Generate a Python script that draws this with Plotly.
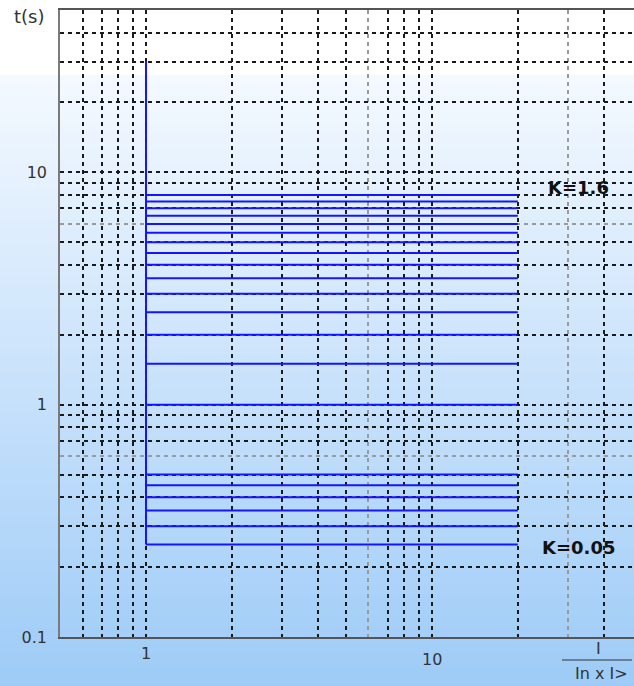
import math
import plotly.graph_objects as go

# Definite-time trip levels (seconds), one per time-multiplier setting K
TRIP_TIMES = [8, 7.5, 7, 6.5, 6, 5.5, 5, 4.5, 4, 3.5, 3, 2.5, 2, 1.5,
              1, 0.5, 0.45, 0.4, 0.35, 0.3, 0.25]
I_PICKUP = 1        # I / (In x I>) at which the stage picks up
I_END = 20          # right end of the drawn characteristic
T_TOP = 30          # top of the pickup line
CURVE_LABELS = ["K=1.6", "K=0.05"]
CURVE_LABEL_TIMES = [8, 0.25]
CURVE_LABEL_X = 32.5

# Grid positions
X_GRID = [0.6, 0.7, 0.8, 0.9, 1, 2, 3, 4, 5, 7, 8, 9, 10, 20, 40]
X_GRID_LIGHT = [6, 30]
X_LABELS = ["1", "10"]
X_LABEL_VALS = [1, 10]
Y_GRID = [0.1, 0.2, 0.3, 0.4, 0.5, 0.7, 0.8, 0.9, 1, 2, 3, 4, 5, 7, 8, 9, 10,
          20, 30, 40]
Y_GRID_LIGHT = [0.6, 6]
Y_LABELS = {0.1: "0.1", 1: "1", 10: "10"}

X_RANGE = (0.5, 51)
Y_RANGE = (0.1, 50)

W, H = 634, 686
ML, MR, MT, MB = 60, 0, 10, 49
PW, PH = W - ML - MR, H - MT - MB


def px_to_paper_x(px):
    return (px - ML) / PW


def px_to_paper_y(py):
    return (H - MB - py) / PH


BLUE = "#1414ff"
GRID = "#1a1a1a"
GRID_LIGHT = "#9a9a9a"
TXT = "#333333"

fig = go.Figure()

# pickup line at I = 1
fig.add_trace(go.Scatter(
    x=[I_PICKUP, I_PICKUP], y=[min(TRIP_TIMES), T_TOP], mode="lines",
    line=dict(color=BLUE, width=2), hoverinfo="skip", showlegend=False))

# one horizontal definite-time line per K setting
for t in TRIP_TIMES:
    fig.add_trace(go.Scatter(
        x=[I_PICKUP, I_END], y=[t, t], mode="lines",
        line=dict(color=BLUE, width=2), hoverinfo="skip", showlegend=False))

# background: white top band, then a soft blue vertical gradient
shapes = []
g_top, g_bot = 75, H
c0, c1 = (244, 249, 255), (157, 203, 247)
step = 3
py = g_top
while py < g_bot:
    f = (py - g_top) / (g_bot - g_top)
    col = tuple(round(a + (b - a) * f) for a, b in zip(c0, c1))
    shapes.append(dict(
        type="rect", xref="paper", yref="paper", layer="below",
        x0=px_to_paper_x(-2), x1=px_to_paper_x(W + 2),
        y0=px_to_paper_y(min(py + step + 0.5, g_bot + 2)), y1=px_to_paper_y(py),
        fillcolor="rgb(%d,%d,%d)" % col, line=dict(width=0)))
    py += step

# fraction bar of the x-axis title
shapes.append(dict(
    type="line", xref="paper", yref="paper",
    x0=px_to_paper_x(562), x1=px_to_paper_x(632),
    y0=px_to_paper_y(660), y1=px_to_paper_y(660),
    line=dict(color="#333333", width=1.2)))

annotations = []
for txt, xv in zip(X_LABELS, X_LABEL_VALS):
    annotations.append(dict(
        text=txt, x=math.log10(xv), xref="x", yref="paper",
        y=px_to_paper_y(653 if xv == 1 else 659), yanchor="middle",
        xanchor="center", showarrow=False,
        font=dict(family="DejaVu Sans", size=16, color=TXT)))

annotations.append(dict(
    text="t(s)", x=px_to_paper_x(29), y=px_to_paper_y(17), xref="paper",
    yref="paper", xanchor="center", yanchor="middle", showarrow=False,
    font=dict(family="DejaVu Sans", size=18, color=TXT)))
annotations.append(dict(
    text="I", x=px_to_paper_x(598), y=px_to_paper_y(648), xref="paper",
    yref="paper", xanchor="center", yanchor="middle", showarrow=False,
    font=dict(family="DejaVu Sans", size=16, color=TXT)))
annotations.append(dict(
    text="In x I>", x=px_to_paper_x(601), y=px_to_paper_y(674), xref="paper",
    yref="paper", xanchor="center", yanchor="middle", showarrow=False,
    font=dict(family="DejaVu Sans", size=16, color=TXT)))

for txt, t, shift in zip(CURVE_LABELS, CURVE_LABEL_TIMES, [7, -3]):
    annotations.append(dict(
        text=txt, x=math.log10(CURVE_LABEL_X), y=math.log10(t), xref="x",
        yref="y", xanchor="center", yanchor="middle", yshift=shift,
        showarrow=False,
        font=dict(family="DejaVu Sans", size=18, color="#111111",
                  weight="bold")))

fig.update_layout(
    width=W, height=H,
    margin=dict(l=ML, r=MR, t=MT, b=MB, pad=0),
    paper_bgcolor="white", plot_bgcolor="rgba(0,0,0,0)",
    shapes=shapes, annotations=annotations, showlegend=False,
    xaxis=dict(
        type="log", range=[math.log10(X_RANGE[0]), math.log10(X_RANGE[1])],
        tickmode="array", tickvals=X_GRID, showticklabels=False, ticks="",
        showgrid=True, gridcolor=GRID, gridwidth=1.5, griddash="4px,4px",
        minor=dict(tickmode="array", tickvals=X_GRID_LIGHT, showgrid=True,
                   gridcolor=GRID_LIGHT, gridwidth=1.5, griddash="4px,4px",
                   ticks=""),
        showline=True, linecolor="#555555", linewidth=1.5, mirror=True,
        zeroline=False, fixedrange=True),
    yaxis=dict(
        type="log", range=[math.log10(Y_RANGE[0]), math.log10(Y_RANGE[1])],
        tickmode="array", tickvals=Y_GRID,
        ticktext=[Y_LABELS.get(v, "") for v in Y_GRID],
        ticks="", ticklabelstandoff=8,
        tickfont=dict(family="DejaVu Sans", size=16, color=TXT),
        showgrid=True, gridcolor=GRID, gridwidth=1.5, griddash="4px,4px",
        minor=dict(tickmode="array", tickvals=Y_GRID_LIGHT, showgrid=True,
                   gridcolor=GRID_LIGHT, gridwidth=1.5, griddash="4px,4px",
                   ticks=""),
        showline=True, linecolor="#7a7a7a", linewidth=1.5,
        zeroline=False, fixedrange=True),
)

fig.write_html("out.html")
